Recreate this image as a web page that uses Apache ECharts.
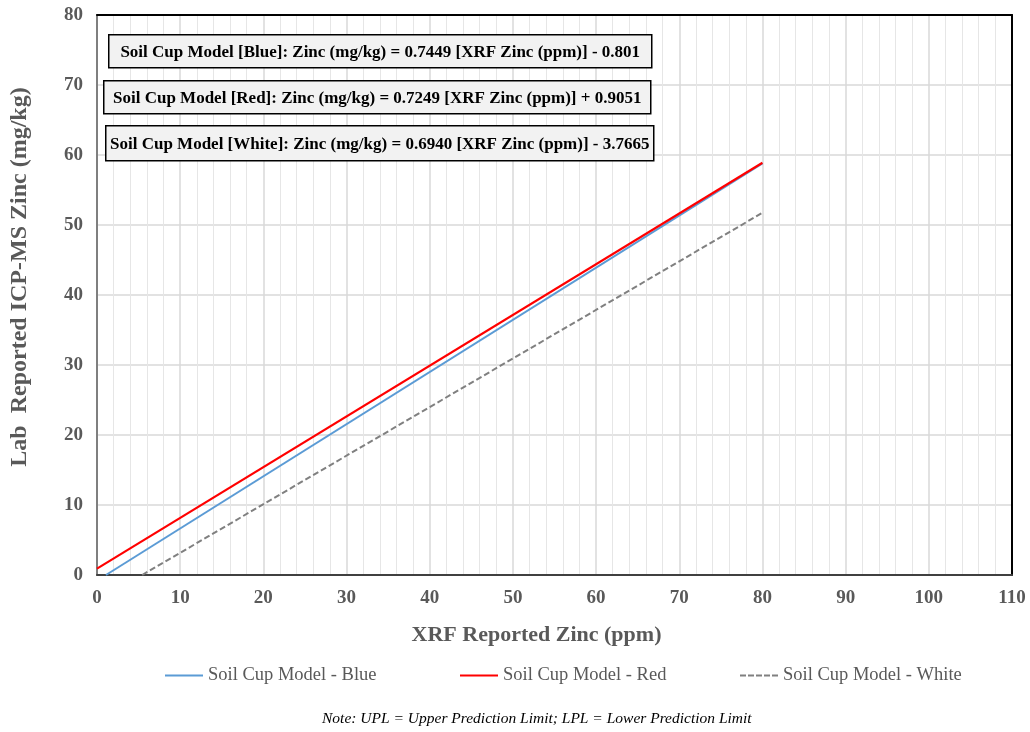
<!DOCTYPE html>
<html>
<head>
<meta charset="utf-8">
<script src="https://cdn.jsdelivr.net/npm/echarts@6/dist/echarts.min.js"></script>
<style>
  html, body { margin: 0; padding: 0; background: #fff; }
  #chart { width: 1030px; height: 732px; }
</style>
</head>
<body>
<div id="chart"></div>
<script>
// Fitted calibration lines: end points in XRF ppm (x) and lab mg/kg (y)
const blueX = [1.08, 80];
const blueY = [0, 58.79];
const redX = [0, 80];
const redY = [0.91, 58.90];
const whiteX = [5.43, 80];
const whiteY = [0, 51.75];

const seriesNames = ['Soil Cup Model - Blue', 'Soil Cup Model - Red', 'Soil Cup Model - White'];
const equations = [
  'Soil Cup Model [Blue]: Zinc (mg/kg) = 0.7449 [XRF Zinc (ppm)] - 0.801',
  'Soil Cup Model [Red]: Zinc (mg/kg) = 0.7249 [XRF Zinc (ppm)] + 0.9051',
  'Soil Cup Model [White]: Zinc (mg/kg) = 0.6940 [XRF Zinc (ppm)] - 3.7665'
];
const noteText = 'Note: UPL = Upper Prediction Limit; LPL = Lower Prediction Limit';

const pairs = (xs, ys) => xs.map((x, i) => [x, ys[i]]);
const serif = '"Liberation Serif", "Times New Roman", serif';

const chart = echarts.init(document.getElementById('chart'));

// equation label: light grey box with a black outline
const eqBox = (text, left, top, width, height) => ({
  type: 'group',
  left: left, top: top, z: 100,
  children: [
    { type: 'rect', z: 100, shape: { x: 0, y: 0, width: width, height: height },
      style: { fill: '#f2f2f2', stroke: '#000', lineWidth: 1.5 } },
    { type: 'text', z: 101, x: width / 2, y: height / 2 + 1,
      style: { text: text, fill: '#000', font: 'bold 17px ' + serif,
               align: 'center', verticalAlign: 'middle' } }
  ]
});

const solidIcon = 'path://M0,0 L38,0 L38,2 L0,2 Z';
const dashIcon = 'path://M0,0 L6,0 L6,2 L0,2 Z M8,0 L14,0 L14,2 L8,2 Z M16,0 L22,0 L22,2 L16,2 Z M24,0 L30,0 L30,2 L24,2 Z M32,0 L38,0 L38,2 L32,2 Z';

// one legend entry per series, laid out along the bottom
const legendLefts = [160, 455, 735];
const legendIcons = [solidIcon, solidIcon, dashIcon];
const legends = seriesNames.map((n, i) => ({
  bottom: 42, left: legendLefts[i],
  itemWidth: 38, itemHeight: 2, itemGap: 0,
  textStyle: { fontFamily: serif, fontSize: 18.5, color: '#595959' },
  data: [{ name: n, icon: legendIcons[i] }]
}));

chart.setOption({
  animation: false,
  backgroundColor: '#fff',
  grid: { left: 97, right: 18, top: 15, bottom: 157 },
  legend: legends,
  xAxis: [{
    type: 'value', min: 0, max: 110, interval: 10,
    name: 'XRF Reported Zinc (ppm)', nameLocation: 'middle', nameGap: 49,
    nameTextStyle: { fontFamily: serif, fontSize: 22, fontWeight: 'bold', color: '#595959',
                     padding: [0, 36, 0, 0] },
    axisLine: { show: true, lineStyle: { color: '#404040', width: 2 } },
    axisTick: { show: false },
    axisLabel: { margin: 14, fontFamily: serif, fontSize: 19, fontWeight: 'bold', color: '#595959' },
    splitLine: { show: true, lineStyle: { color: '#d9d9d9', width: 1.5 } },
    minorTick: { show: false, splitNumber: 5 },
    minorSplitLine: { show: true, lineStyle: { color: '#e6e6e6', width: 1 } }
  }, {
    // frame line along the top of the plot
    type: 'value', position: 'top', min: 0, max: 110,
    axisLine: { show: true, onZero: false, lineStyle: { color: '#000', width: 2 } },
    axisTick: { show: false }, axisLabel: { show: false }, splitLine: { show: false }
  }],
  yAxis: [{
    type: 'value', min: 0, max: 80, interval: 10,
    name: 'Lab  Reported ICP-MS Zinc (mg/kg)', nameLocation: 'middle', nameGap: 65,
    nameTextStyle: { fontFamily: serif, fontSize: 24, fontWeight: 'bold', color: '#595959',
                     padding: [0, 0, 0, 36] },
    axisLine: { show: true, lineStyle: { color: '#7f7f7f', width: 2 } },
    axisTick: { show: false },
    axisLabel: { margin: 14, fontFamily: serif, fontSize: 19, fontWeight: 'bold', color: '#595959' },
    splitLine: { show: true, lineStyle: { color: '#d9d9d9', width: 1.5 } }
  }, {
    // frame line along the right of the plot
    type: 'value', position: 'right', min: 0, max: 80,
    axisLine: { show: true, onZero: false, lineStyle: { color: '#000', width: 2 } },
    axisTick: { show: false }, axisLabel: { show: false }, splitLine: { show: false }
  }],
  series: [
    { name: seriesNames[0], type: 'line', data: pairs(blueX, blueY), symbol: 'none',
      color: '#5b9bd5', lineStyle: { color: '#5b9bd5', width: 2 } },
    { name: seriesNames[1], type: 'line', data: pairs(redX, redY), symbol: 'none',
      color: '#ff0000', lineStyle: { color: '#ff0000', width: 2.2 } },
    { name: seriesNames[2], type: 'line', data: pairs(whiteX, whiteY), symbol: 'none',
      color: '#808080', lineStyle: { color: '#808080', width: 2, type: [6, 3] } }
  ],
  graphic: [
    eqBox(equations[0], 108, 34, 543, 33),
    eqBox(equations[1], 103, 80, 547, 33),
    eqBox(equations[2], 105, 125, 548, 35),
    { type: 'text', left: 322, top: 711, z: 100,
      style: { text: noteText, fill: '#000', font: 'italic 15.5px ' + serif } }
  ]
});
</script>
</body>
</html>
